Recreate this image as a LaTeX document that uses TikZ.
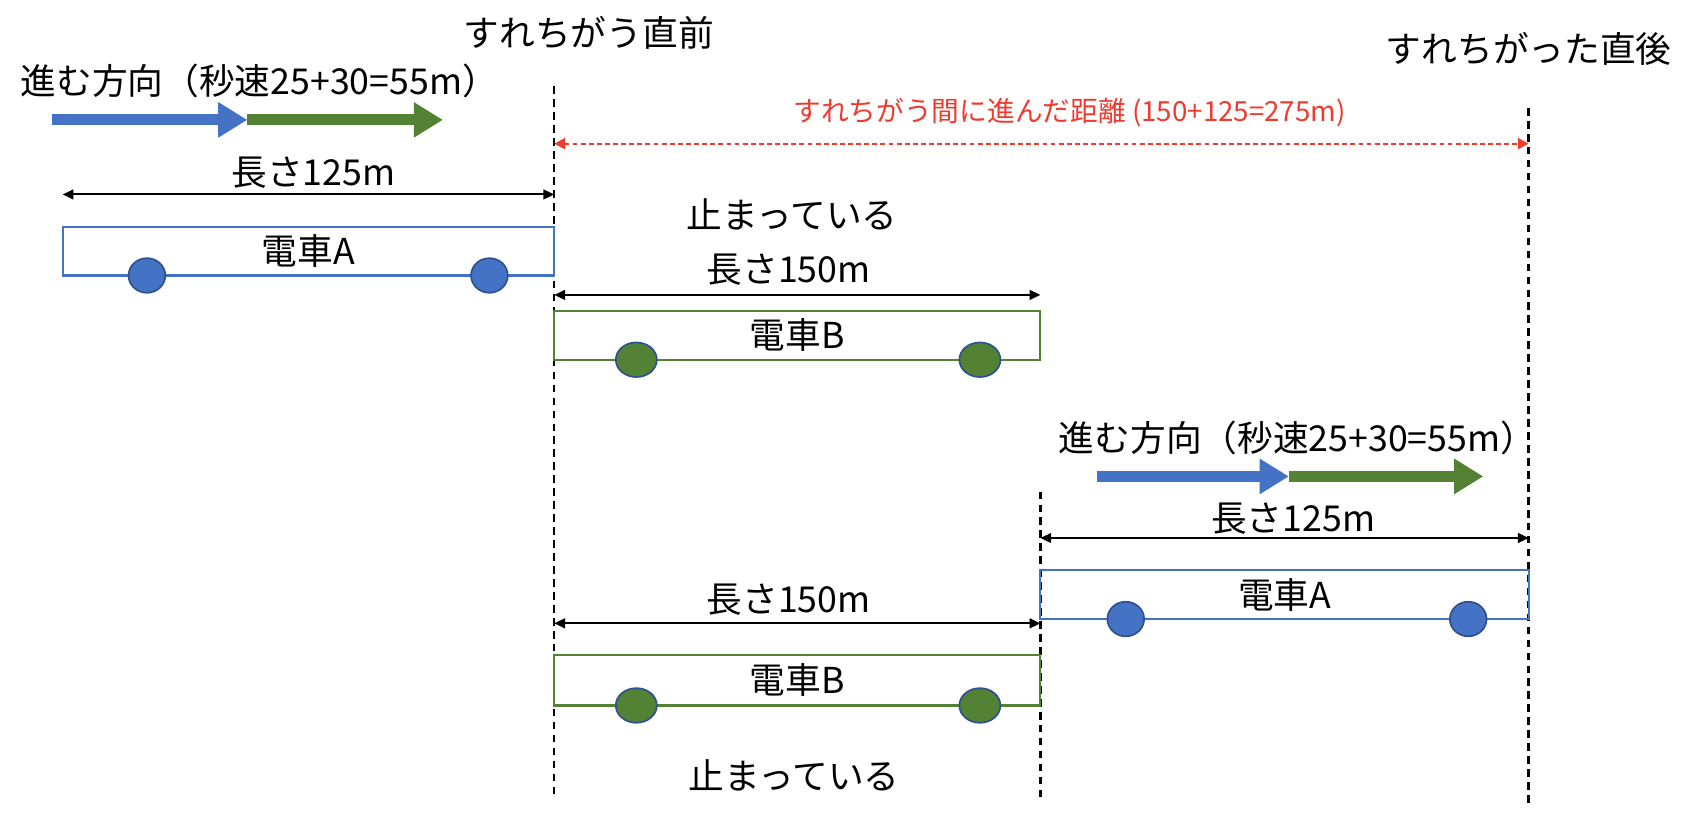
\documentclass[tikz,border=0pt]{standalone}
\usepackage{fontspec}
\setmainfont{Noto Sans CJK JP}
\usetikzlibrary{arrows.meta,shapes.geometric}

\definecolor{trainblue}{HTML}{4472C4}
\definecolor{traingreen}{HTML}{548235}
\definecolor{wheelrim}{HTML}{2F528F}
\definecolor{gapred}{HTML}{EE3B2E}

\begin{document}
\begin{tikzpicture}[
	txt/.style={font=\fontsize{9.4pt}{11pt}\selectfont, inner sep=0pt},
	guide/.style={dash pattern=on 0.07cm off 0.05cm, line width=0.65pt},
	dim/.style={<->, >={Triangle[length=0.1cm, width=0.09cm]}, line width=0.55pt},
	gap/.style={draw=gapred, <->, >={Triangle[length=0.1cm, width=0.1cm]}, dash pattern=on 0.045cm off 0.03cm, line width=0.6pt},
	moveA/.style={draw=trainblue, line width=0.1cm, -{Triangle[length=0.27cm, width=0.31cm]}},
	moveB/.style={draw=traingreen, line width=0.1cm, -{Triangle[length=0.27cm, width=0.31cm]}},
	trainA/.style={txt, draw=trainblue, line width=0.55pt, minimum height=0.45cm, outer sep=0pt},
	trainB/.style={txt, draw=traingreen, line width=0.55pt, minimum height=0.45cm, outer sep=0pt},
	wheelA/.style={ellipse, fill=trainblue, draw=wheelrim, line width=0.45pt, minimum width=0.34cm, minimum height=0.32cm, inner sep=0pt},
	wheelB/.style={ellipse, fill=traingreen, draw=wheelrim, line width=0.45pt, minimum width=0.38cm, minimum height=0.32cm, inner sep=0pt}
	]

		\useasboundingbox (0, 0.61) rectangle (15.68, 8.24);

		\coordinate (g1top) at(5.13, 7.44);
		\coordinate (g1bot) at(5.13, 0.86);
		\coordinate (g2top) at(9.63, 3.69);
		\coordinate (g2bot) at(9.63, 0.86);
		\coordinate (g3top) at(14.15, 7.24);
		\coordinate (g3bot) at(14.15, 0.76);
		\coordinate (gapL) at(5.13, 6.91);
		\coordinate (gapR) at(14.15, 6.91);

		\draw[guide] (g1top) to (g1bot);
		\draw[guide] (g2top) to (g2bot);
		\draw[guide] (g3top) to (g3bot);
		\draw[gap] (gapL) to (gapR);

		\node[txt] (beforeLbl) at(5.45, 7.94){すれちがう直前};
		\node[txt] (afterLbl) at(14.15, 7.79){すれちがった直後};
		\node[txt, text=gapred, font=\fontsize{7.3pt}{9pt}\selectfont] (gapLbl) at(9.90, 7.20){すれちがう間に進んだ距離 (150+125=275m)};

		\node[txt] (dirTop) at(2.40, 7.49){進む方向（秒速25+30=55m）};
		\coordinate (mvT0) at(0.48, 7.13);
		\coordinate (mvT1) at(2.29, 7.13);
		\coordinate (mvT2) at(4.10, 7.13);
		\draw[moveA] (mvT0) to (mvT1);
		\draw[moveB] (mvT1) to (mvT2);

		\node[txt] (dirBot) at(12.01, 4.19){進む方向（秒速25+30=55m）};
		\coordinate (mvB0) at(10.15, 3.83);
		\coordinate (mvB1) at(11.93, 3.83);
		\coordinate (mvB2) at(13.73, 3.83);
		\draw[moveA] (mvB0) to (mvB1);
		\draw[moveB] (mvB1) to (mvB2);


		\node[trainA, minimum width=4.55cm] (trainAtop) at(2.855, 5.915){電車A};
			\node[wheelA] (wheelA1) at(1.36, 5.69){};
			\node[wheelA] (wheelA2) at(4.53, 5.69){};
		\node[txt] (lenAtop) at(2.90, 6.64){長さ125m};
		\draw[dim] ([yshift=0.30cm]trainAtop.north west) to ([yshift=0.30cm]trainAtop.north east);

		\node[trainB, minimum width=4.50cm] (trainBtop) at(7.38, 5.135){電車B};
			\node[wheelB] (wheelB1) at(5.89, 4.91){};
			\node[wheelB] (wheelB2) at(9.07, 4.91){};
		\node[txt] (lenBtop) at(7.30, 5.74){長さ150m};
		\draw[dim] ([yshift=0.15cm]trainBtop.north west) to ([yshift=0.15cm]trainBtop.north east);
		\node[txt] (stopTop) at(7.33, 6.26){止まっている};

		\node[trainA, minimum width=4.52cm] (trainAbot) at(11.89, 2.735){電車A};
			\node[wheelA] (wheelA3) at(10.42, 2.51){};
			\node[wheelA] (wheelA4) at(13.59, 2.51){};
		\node[txt] (lenAbot) at(11.97, 3.44){長さ125m};
		\draw[dim] ([yshift=0.30cm]trainAbot.north west) to ([yshift=0.30cm]trainAbot.north east);

		\node[trainB, minimum width=4.50cm, minimum height=0.47cm] (trainBbot) at(7.38, 1.945){電車B};
			\node[wheelB] (wheelB3) at(5.89, 1.71){};
			\node[wheelB] (wheelB4) at(9.07, 1.71){};
		\node[txt] (lenBbot) at(7.30, 2.69){長さ150m};
		\draw[dim] ([yshift=0.29cm]trainBbot.north west) to ([yshift=0.29cm]trainBbot.north east);
		\node[txt] (stopBot) at(7.35, 1.06){止まっている};

	\end{tikzpicture}
\end{document}
